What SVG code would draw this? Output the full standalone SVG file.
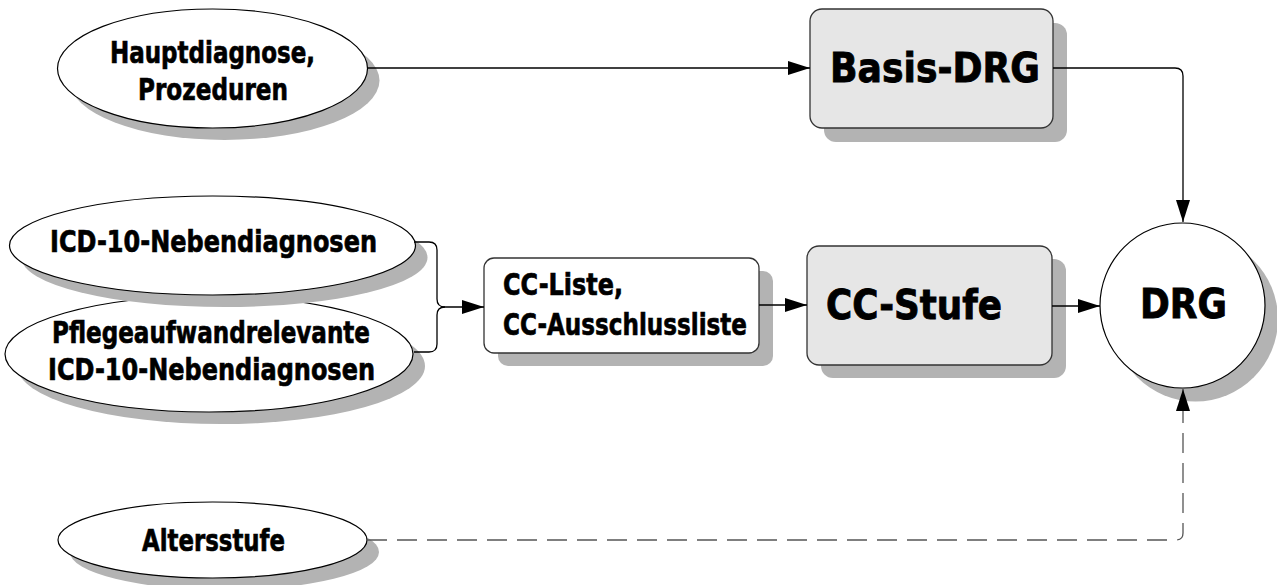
<svg xmlns="http://www.w3.org/2000/svg" width="1277" height="585" viewBox="0 0 1277 585">
<defs>
<style>
.sh{fill:#b3b3b3;stroke:none}
.el{fill:#ffffff;stroke:#000;stroke-width:1.2}
.bx{fill:#e6e6e6;stroke:#333;stroke-width:1.3}
.bw{fill:#ffffff;stroke:#333;stroke-width:1.3}
.t{font-family:"DejaVu Sans","Liberation Sans",sans-serif;font-weight:bold;fill:#000;stroke:#000}
.s{font-size:30px;stroke-width:0.7}
.b{font-size:41px;stroke-width:0.9}
.c{fill:none;stroke:#000;stroke-width:1.3}
.d{fill:none;stroke:#555;stroke-width:1.3;stroke-dasharray:20 10}
</style>
<marker id="ah" markerUnits="userSpaceOnUse" markerWidth="24" markerHeight="16" refX="22" refY="7" orient="auto">
<path d="M0,0 L22,7 L0,14 z" fill="#000"/>
</marker>
</defs>
<rect width="1277" height="585" fill="#fff"/>

<g id="n-pflege">
<ellipse class="sh" cx="221" cy="366" rx="204" ry="58"/>
<ellipse class="el" cx="209" cy="354" rx="204" ry="58"/>
<text class="t s" x="211" y="343" text-anchor="middle" textLength="318" lengthAdjust="spacingAndGlyphs">Pflegeaufwandrelevante</text>
<text class="t s" x="211.5" y="380" text-anchor="middle" textLength="327" lengthAdjust="spacingAndGlyphs">ICD-10-Nebendiagnosen</text>
</g>

<g id="n-icd">
<ellipse class="sh" cx="224.5" cy="257.5" rx="203" ry="49.5"/>
<ellipse class="el" cx="212.5" cy="245.5" rx="203" ry="49.5"/>
<text class="t s" x="213.5" y="252" text-anchor="middle" textLength="327" lengthAdjust="spacingAndGlyphs">ICD-10-Nebendiagnosen</text>
</g>

<g id="n-haupt">
<ellipse class="sh" cx="224.5" cy="80.5" rx="155" ry="59.5"/>
<ellipse class="el" cx="212.5" cy="68.5" rx="155" ry="59.5"/>
<text class="t s" x="212.5" y="63" text-anchor="middle" textLength="205" lengthAdjust="spacingAndGlyphs">Hauptdiagnose,</text>
<text class="t s" x="213" y="100" text-anchor="middle" textLength="150" lengthAdjust="spacingAndGlyphs">Prozeduren</text>
</g>

<g id="n-alter">
<ellipse class="sh" cx="224.5" cy="552" rx="154.5" ry="38"/>
<ellipse class="el" cx="212.5" cy="540" rx="154.5" ry="38"/>
<text class="t s" x="213.5" y="551" text-anchor="middle" textLength="143" lengthAdjust="spacingAndGlyphs">Altersstufe</text>
</g>

<g id="n-basis">
<rect class="sh" x="824" y="23" width="243" height="119" rx="12"/>
<rect class="bx" x="810" y="9" width="243" height="119" rx="12"/>
<text class="t b" x="830" y="82" textLength="210" lengthAdjust="spacingAndGlyphs">Basis-DRG</text>
</g>

<g id="n-ccliste">
<rect class="sh" x="498" y="271" width="275" height="95" rx="10"/>
<rect class="bw" x="484" y="258" width="275" height="95" rx="10"/>
<text class="t s" x="503" y="295" textLength="120" lengthAdjust="spacingAndGlyphs">CC-Liste,</text>
<text class="t s" x="503" y="335" textLength="244" lengthAdjust="spacingAndGlyphs">CC-Ausschlussliste</text>
</g>

<g id="n-ccstufe">
<rect class="sh" x="821" y="259" width="245" height="119" rx="12"/>
<rect class="bx" x="807" y="246" width="245" height="119" rx="12"/>
<text class="t b" x="826" y="319" textLength="176" lengthAdjust="spacingAndGlyphs">CC-Stufe</text>
</g>

<g id="n-drg">
<circle class="sh" cx="1195.5" cy="319" r="82.5"/>
<circle class="el" cx="1182.5" cy="305.5" r="82.5"/>
<text class="t b" x="1183.5" y="318" text-anchor="middle" textLength="87" lengthAdjust="spacingAndGlyphs">DRG</text>
</g>

<g id="connectors">
<path class="c" d="M367,68 H810" marker-end="url(#ah)"/>
<path class="c" d="M1053,68 H1175 Q1183,68 1183,76 V222" marker-end="url(#ah)"/>
<path class="c" d="M414,242 H429 Q437,242 437,250 V299 Q437,307 445,307"/>
<path class="c" d="M445,307 Q437,307 437,315 V344 Q437,352 429,352 H414"/>
<path class="c" d="M445,307 H484" marker-end="url(#ah)"/>
<path class="c" d="M759,305 H807" marker-end="url(#ah)"/>
<path class="c" d="M1052,306 H1100" marker-end="url(#ah)"/>
<path class="d" d="M367,540 H1176 Q1183,540 1183,533 V389"/>
<path d="M1183,411 L1183,389" stroke="none" fill="none" marker-end="url(#ah)"/>
</g>
</svg>
